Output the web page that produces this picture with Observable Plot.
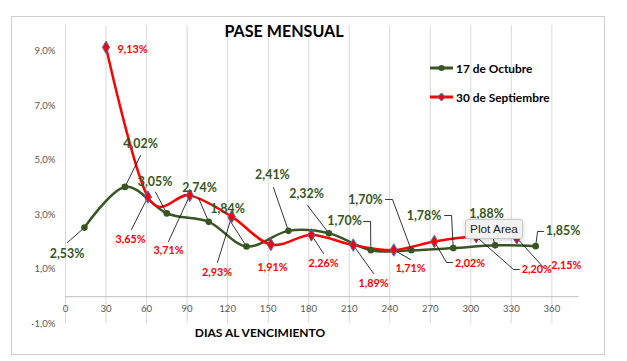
<!DOCTYPE html>
<html><head><meta charset="utf-8">
<script src="https://cdn.jsdelivr.net/npm/d3@7"></script>
<script src="https://cdn.jsdelivr.net/npm/@observablehq/plot@0.6"></script>
<style>
body{margin:0;background:#fff;}
#wrap{position:relative;width:627px;height:361px;overflow:hidden;font-family:Lato,sans-serif;}
#wrap svg{position:absolute;left:0;top:0;}
.frame{position:absolute;left:11px;top:16px;width:594px;height:339px;border:1px solid #d0d0d0;box-sizing:border-box;}
.title{position:absolute;left:184px;top:21px;width:200px;line-height:20px;text-align:center;font-weight:bold;font-size:16.1px;color:#000;}
.xtitle{position:absolute;left:160px;top:325px;width:200px;line-height:16px;text-align:center;font-weight:bold;font-size:12px;color:#000;}
.legend{position:absolute;left:430px;top:59px;font-weight:bold;font-size:11.9px;color:#000;}
.legend .row{display:flex;align-items:center;height:18px;margin-bottom:11px;}
.legend svg{position:static !important;margin-right:2px;}
.tip{position:absolute;left:465px;top:219px;width:56px;height:18px;background:#f2f2f2;border:1px solid #c8c8c8;border-radius:3px;box-shadow:0 1px 4px rgba(0,0,0,0.2);font-family:"Liberation Sans",sans-serif;font-size:11.8px;line-height:18px;text-align:center;color:#222;}
</style>
</head><body>
<div id="wrap"></div>
<script>
// ---- data ----
const seriesNames = ["17 de Octubre", "30 de Septiembre"];
const greenDays = [14, 44, 75, 106, 134, 165, 195, 226, 256, 287, 318, 348];
const greenValues = [2.53, 4.02, 3.05, 2.74, 1.84, 2.41, 2.32, 1.70, 1.70, 1.78, 1.88, 1.85];
const redDays = [30, 61, 92, 123, 152, 182, 213, 243, 273, 304, 334];
const redValues = [9.13, 3.65, 3.71, 2.93, 1.91, 2.26, 1.89, 1.71, 2.02, 2.20, 2.15];
const xTicks = [0, 30, 60, 90, 120, 150, 180, 210, 240, 270, 300, 330, 360];
const yTicks = [-1, 1, 3, 5, 7, 9];
const titleText = "PASE MENSUAL";
const xAxisTitle = "DIAS AL VENCIMIENTO";
const tooltipText = "Plot Area";

// ---- layout (pixel offsets of data labels and leader lines from their point) ----
const W = 627, H = 361;
const M = {top: 25, right: 48.6, bottom: 37.5, left: 65};
const xDomain = [0, 380], yDomain = [-1, 9.93];
const greenLabelLayout = [
  {label: [-17.4, 26], leader: [[-17, 15], [0, 0]]},
  {label: [15.6, -42.4], leader: [[15.6, -31.4], [0, 0]]},
  {label: [-11.8, -31.2], leader: [[-11.3, -21.2], [0, 0]]},
  {label: [-9.2, -33.4], leader: [[-10, -23.4], [0, 0]]},
  {label: [-19, -37], leader: [[-18, -28], [0, 0]]},
  {label: [-16, -55.4], leader: [[-15, -43.4], [0, 0]]},
  {label: [-22.4, -38.8], leader: [[-21.4, -27.8], [0, 0]]},
  {label: [-26.3, -28.8], leader: [[-7.3, -28.8], [-0.3, -28.8], [0, 0]]},
  {label: [-45.9, -49.8], leader: [[-25.9, -50.8], [-18.9, -50.8], [0, 0]]},
  {label: [-29.2, -31.9], leader: [[-8.7, -32.6], [-1.7, -32.6], [0, 0]]},
  {label: [-8.6, -31.8], leader: [[-6, -22], [0, 0]]},
  {label: [27.4, -15], leader: [[7.9, -14.7], [1.9, -14.7], [0, 0]]}
];
const redLabelLayout = [
  {label: [26.5, 2]},
  {label: [-17.4, 42.5], leader: [[-16.4, 32.5], [0, 0]]},
  {label: [-21.3, 55.1], leader: [[-21.3, 46.1], [0, 0]]},
  {label: [-14.7, 55.5], leader: [[-14.2, 45.8], [0, 0]]},
  {label: [1.6, 23]},
  {label: [12.1, 28.5], leader: [[12.1, 18.5], [0, 0]]},
  {label: [20.2, 38.4], leader: [[20.2, 28.4], [0, 0]]},
  {label: [16.7, 18.5], leader: [[16.7, 9.5], [0, 0]]},
  {label: [35.7, 22], leader: [[18.2, 21], [12.2, 21], [0, 0]]},
  {label: [60.5, 32.9], leader: [[43, 32.9], [37.3, 32.9], [0, 0]]},
  {label: [49.5, 27.5], leader: [[26.8, 29.5], [0, 0]]}
];

const GREEN = "#375623", RED = "#ff0000", BLUE = "#4472c4";
const pct2 = v => v.toFixed(2).replace(".", ",") + "%";
const pct1 = v => v.toFixed(1).replace(".", ",") + "%";

const xs = d3.scaleLinear(xDomain, [M.left, W - M.right]);
const ys = d3.scaleLinear(yDomain, [H - M.bottom, M.top]);

function build(days, vals, layout, sid) {
  const pts = days.map((d, i) => ({x: d, y: vals[i]}));
  const labels = [], leaders = [];
  days.forEach((d, i) => {
    const px = xs(d), py = ys(vals[i]), L = layout[i];
    labels.push({x: xs.invert(px + L.label[0]), y: ys.invert(py + L.label[1]), text: pct2(vals[i])});
    if (L.leader) L.leader.forEach(([a, b]) => leaders.push({id: sid + i, x: xs.invert(px + a), y: ys.invert(py + b)}));
  });
  return {pts, labels, leaders};
}
const G = build(greenDays, greenValues, greenLabelLayout, "g");
const R = build(redDays, redValues, redLabelLayout, "r");

const chart = Plot.plot({
  width: W, height: H,
  marginTop: M.top, marginRight: M.right, marginBottom: M.bottom, marginLeft: M.left,
  x: {domain: xDomain, axis: null},
  y: {domain: yDomain, axis: null},
  style: {background: "transparent", fontFamily: "Lato, sans-serif"},
  marks: [
    Plot.ruleX(xTicks, {stroke: "#d9d9d9", strokeWidth: 1}),
    Plot.ruleY([0], {stroke: "#bfbfbf", strokeWidth: 1}),
    Plot.text(xTicks, {x: d => d, y: 0, dy: 12, text: d => String(d), fill: "#595959", fontSize: 9.6}),
    Plot.text(yTicks, {x: 0, y: d => d, dx: -10, textAnchor: "end", text: pct1, fill: "#595959", fontSize: 9.6}),
    Plot.line(G.pts, {x: "x", y: "y", curve: "cardinal", stroke: GREEN, strokeWidth: 2.5}),
    Plot.line(R.pts, {x: "x", y: "y", curve: "cardinal", stroke: RED, strokeWidth: 2.5}),
    Plot.line(G.leaders.concat(R.leaders), {x: "x", y: "y", z: "id", stroke: "#000", strokeWidth: 0.8}),
    Plot.dot(G.pts, {x: "x", y: "y", r: 3.3, fill: GREEN}),
    Plot.dot(R.pts, {x: "x", y: "y", symbol: "diamond", r: 3.8, fill: RED, stroke: BLUE, strokeWidth: 1}),
    Plot.text(G.labels, {x: "x", y: "y", text: "text", fill: GREEN, fontWeight: "bold", fontSize: 12.4}),
    Plot.text(R.labels, {x: "x", y: "y", text: "text", fill: RED, fontWeight: "bold", fontSize: 10.8})
  ]
});

const wrap = document.getElementById("wrap");
const frame = document.createElement("div"); frame.className = "frame"; wrap.appendChild(frame);
wrap.appendChild(chart);
const t = document.createElement("div"); t.className = "title"; t.textContent = titleText; wrap.appendChild(t);
const xt = document.createElement("div"); xt.className = "xtitle"; xt.textContent = xAxisTitle; wrap.appendChild(xt);
const lg = document.createElement("div"); lg.className = "legend";
[[GREEN, "circle"], [RED, "diamond"]].forEach(([c, s], i) => {
  const row = document.createElement("div"); row.className = "row";
  const marker = s === "circle"
    ? `<circle cx="11.5" cy="9" r="3" fill="${GREEN}"/>`
    : `<path d="M11.5 5 L15.5 9 L11.5 13 L7.5 9 Z" fill="${RED}" stroke="${BLUE}" stroke-width="1"/>`;
  row.innerHTML = `<svg width="24" height="18"><line x1="0" x2="23" y1="9" y2="9" stroke="${c}" stroke-width="3"/>${marker}</svg><span>${seriesNames[i]}</span>`;
  lg.appendChild(row);
});
wrap.appendChild(lg);
const tip = document.createElement("div"); tip.className = "tip"; tip.textContent = tooltipText; wrap.appendChild(tip);
</script>
</body></html>
